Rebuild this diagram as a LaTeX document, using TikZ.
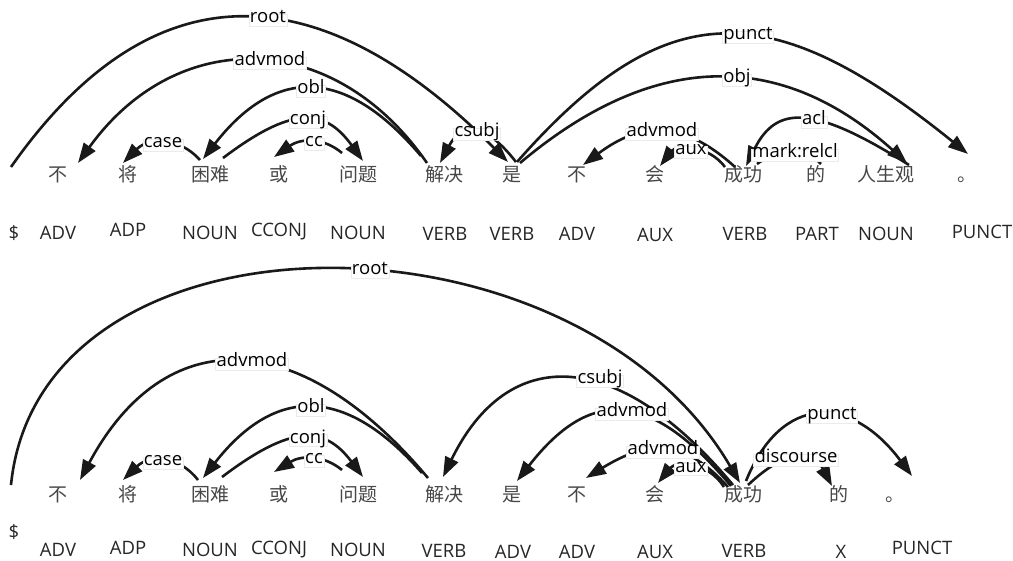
\documentclass[tikz,border=0pt]{standalone}
\usepackage{fontspec}
\setmainfont{Open Sans}
\newfontfamily\cjk{Noto Sans CJK SC}
\usetikzlibrary{arrows.meta,calc}
\pgfdeclarelayer{labels}
\pgfsetlayers{main,labels}

\tikzset{
  dep/.style={line width=2.6pt, draw=black!90},
  deptip/.style={dep, -{Triangle[length=20pt,width=14pt]}},
  arclab/.style={fill=white, draw=black!8, line width=0.5pt, inner xsep=1pt,
    inner ysep=1.5pt, text height=0.72em, text depth=0.22em,
    font=\fontsize{18.5}{21}\selectfont, anchor=base, yshift=-5pt},
  word/.style={font=\cjk\fontsize{19}{21}\selectfont, text=black!72, anchor=base, inner sep=0pt},
  tag/.style={font=\fontsize{18.5}{21}\selectfont, text=black!85, anchor=base, inner sep=0pt},
}

% dependency arc: #1,#2 = how far the two control points lean towards the label,
% #3 head, #4 label point, #5 dependent, #6 style, #7 relation
\newcommand\deparc[7]{%
  \draw[#6] let \p1=(#3), \p2=(#4), \p3=(#5),
    \n1={(\y2-0.125*(\y1+\y3))/0.75} in
    (#3) .. controls ({\x1+#1*(\x2-\x1)},{\n1*1pt}) and ({\x3+#2*(\x2-\x3)},{\n1*1pt}) .. (#5);
  \begin{pgfonlayer}{labels}\node[arclab] (#4-lab) at (#4) {#7};\end{pgfonlayer}
}

\begin{document}
\begin{tikzpicture}[x=1pt,y=-1pt]
\useasboundingbox (0,0) rectangle (1013,561);
\fill[white] (0,0) rectangle (1013,561);

% ---------- first sentence ----------
\foreach \x/\w [count=\i] in {58/不,128/将,210/困难,279/或,358/问题,444/解决,512/是,577/不,655/会,743/成功,816/的,886/人生观}
  \node[word] (tw\i) at (\x,182) {\w};
\node[word, anchor=base west] (tw13) at (957,182) {。};
\foreach \x/\y/\t [count=\i] in {14/240/\$,58/240/ADV,128/237/ADP,210/240/NOUN,279/237/CCONJ,358/240/NOUN,445/241/VERB,512/241/VERB,577/241/ADV,655/242/AUX,745/241/VERB,817/241/PART,886/241/NOUN,982/239/PUNCT}
  \node[tag] (tp\i) at (\x,\y) {\t};

% arc ends and label points
\coordinate (t1s) at (11,167);  \coordinate (t1m) at (268,18);  \coordinate (t1e) at (508,162);
\coordinate (t2s) at (427,163); \coordinate (t2m) at (270,61);  \coordinate (t2e) at (78,163);
\coordinate (t3s) at (421,156); \coordinate (t3m) at (311,89);  \coordinate (t3e) at (203,159);
\coordinate (t4s) at (200,160); \coordinate (t4m) at (163,143); \coordinate (t4e) at (123,163);
\coordinate (t5s) at (223,158); \coordinate (t5m) at (308,120); \coordinate (t5e) at (363,161);
\coordinate (t6s) at (342,153); \coordinate (t6m) at (314,142); \coordinate (t6e) at (274,157);
\coordinate (t7s) at (516,162); \coordinate (t7m) at (477,132); \coordinate (t7e) at (440,163);
\coordinate (t8s) at (517,162); \coordinate (t8m) at (748,35);  \coordinate (t8e) at (968,154);
\coordinate (t9s) at (520,163); \coordinate (t9m) at (737,78);  \coordinate (t9e) at (907,163);
\coordinate (t10s) at (909,165); \coordinate (t10m) at (814,120); \coordinate (t10e) at (746,166);
\coordinate (t11s) at (757,164); \coordinate (t11m) at (795,153); \coordinate (t11e) at (821,164);
\coordinate (t12s) at (735,167); \coordinate (t12m) at (662,132); \coordinate (t12e) at (583,165);
\coordinate (t13s) at (725,167); \coordinate (t13m) at (691,150); \coordinate (t13e) at (660,166);

\deparc{0.54}{0.8}{t1s}{t1m}{t1e}{deptip}{root}
\deparc{0.6}{0.51}{t2s}{t2m}{t2e}{deptip}{advmod}
\deparc{0.69}{0.67}{t3s}{t3m}{t3e}{deptip}{obl}
\deparc{0.56}{0.65}{t4s}{t4m}{t4e}{deptip}{case}
\deparc{0.8}{0.71}{t5s}{t5m}{t5e}{deptip}{conj}
\deparc{0.65}{0.69}{t6s}{t6m}{t6e}{deptip}{cc}
\deparc{0.8}{0.59}{t7s}{t7m}{t7e}{deptip}{csubj}
\deparc{0.64}{0.9}{t8s}{t8m}{t8e}{deptip}{punct}
\deparc{0.62}{0.74}{t9s}{t9m}{t9e}{deptip}{obj}
\deparc{1.0}{0.45}{t10s}{t10m}{t10e}{deptip}{acl}
\deparc{0.5}{0.5}{t11s}{t11m}{t11e}{dep}{mark:relcl}
\deparc{0.7}{0.75}{t12s}{t12m}{t12e}{deptip}{advmod}
\deparc{0.5}{0.54}{t13s}{t13m}{t13e}{deptip}{aux}

% ---------- second sentence ----------
\foreach \x/\w [count=\i] in {58/不,128/将,210/困难,279/或,358/问题,444/解决,512/是,577/不,655/会,743/成功,839/的}
  \node[word] (bw\i) at (\x,501) {\w};
\node[word, anchor=base west] (bw12) at (885,501) {。};
\foreach \x/\y/\t [count=\i] in {14/538/\$,58/556/ADV,128/554/ADP,210/556/NOUN,279/554/CCONJ,358/556/NOUN,444/557/VERB,513/558/ADV,577/558/ADV,655/558/AUX,744/557/VERB,841/558/X,922/554/PUNCT}
  \node[tag] (bp\i) at (\x,\y) {\t};

\coordinate (b1s) at (11,485);  \coordinate (b1m) at (370,270); \coordinate (b1e) at (740,483);
\coordinate (b2s) at (428,478); \coordinate (b2m) at (252,362); \coordinate (b2e) at (80,480);
\coordinate (b3s) at (422,473); \coordinate (b3m) at (311,408); \coordinate (b3e) at (203,478);
\coordinate (b4s) at (198,480); \coordinate (b4m) at (163,461); \coordinate (b4e) at (123,480);
\coordinate (b5s) at (222,477); \coordinate (b5m) at (308,438); \coordinate (b5e) at (363,477);
\coordinate (b6s) at (342,470); \coordinate (b6m) at (314,459); \coordinate (b6e) at (274,472);
\coordinate (b7s) at (733,485); \coordinate (b7m) at (600,379); \coordinate (b7e) at (443,477);
\coordinate (b8s) at (731,486); \coordinate (b8m) at (632,412); \coordinate (b8e) at (517,481);
\coordinate (b9s) at (728,487); \coordinate (b9m) at (663,450); \coordinate (b9e) at (586,478);
\coordinate (b10s) at (724,487); \coordinate (b10m) at (691,467); \coordinate (b10e) at (658,483);
\coordinate (b11s) at (748,485); \coordinate (b11m) at (796,458); \coordinate (b11e) at (832,486);
\coordinate (b12s) at (746,481); \coordinate (b12m) at (832,415); \coordinate (b12e) at (912,476);

\deparc{0.08}{0.45}{b1s}{b1m}{b1e}{deptip}{root}
\deparc{0.74}{0.49}{b2s}{b2m}{b2e}{deptip}{advmod}
\deparc{0.69}{0.67}{b3s}{b3m}{b3e}{deptip}{obl}
\deparc{0.56}{0.65}{b4s}{b4m}{b4e}{deptip}{case}
\deparc{0.8}{0.71}{b5s}{b5m}{b5e}{deptip}{conj}
\deparc{0.65}{0.69}{b6s}{b6m}{b6e}{deptip}{cc}
\deparc{0.88}{0.41}{b7s}{b7m}{b7e}{deptip}{csubj}
\deparc{0.83}{0.63}{b8s}{b8m}{b8e}{deptip}{advmod}
\deparc{0.66}{0.82}{b9s}{b9m}{b9e}{deptip}{advmod}
\deparc{0.5}{0.54}{b10s}{b10m}{b10e}{deptip}{aux}
\deparc{0.8}{0.54}{b11s}{b11m}{b11e}{deptip}{discourse}
\deparc{0.41}{0.77}{b12s}{b12m}{b12e}{deptip}{punct}
\end{tikzpicture}
\end{document}
